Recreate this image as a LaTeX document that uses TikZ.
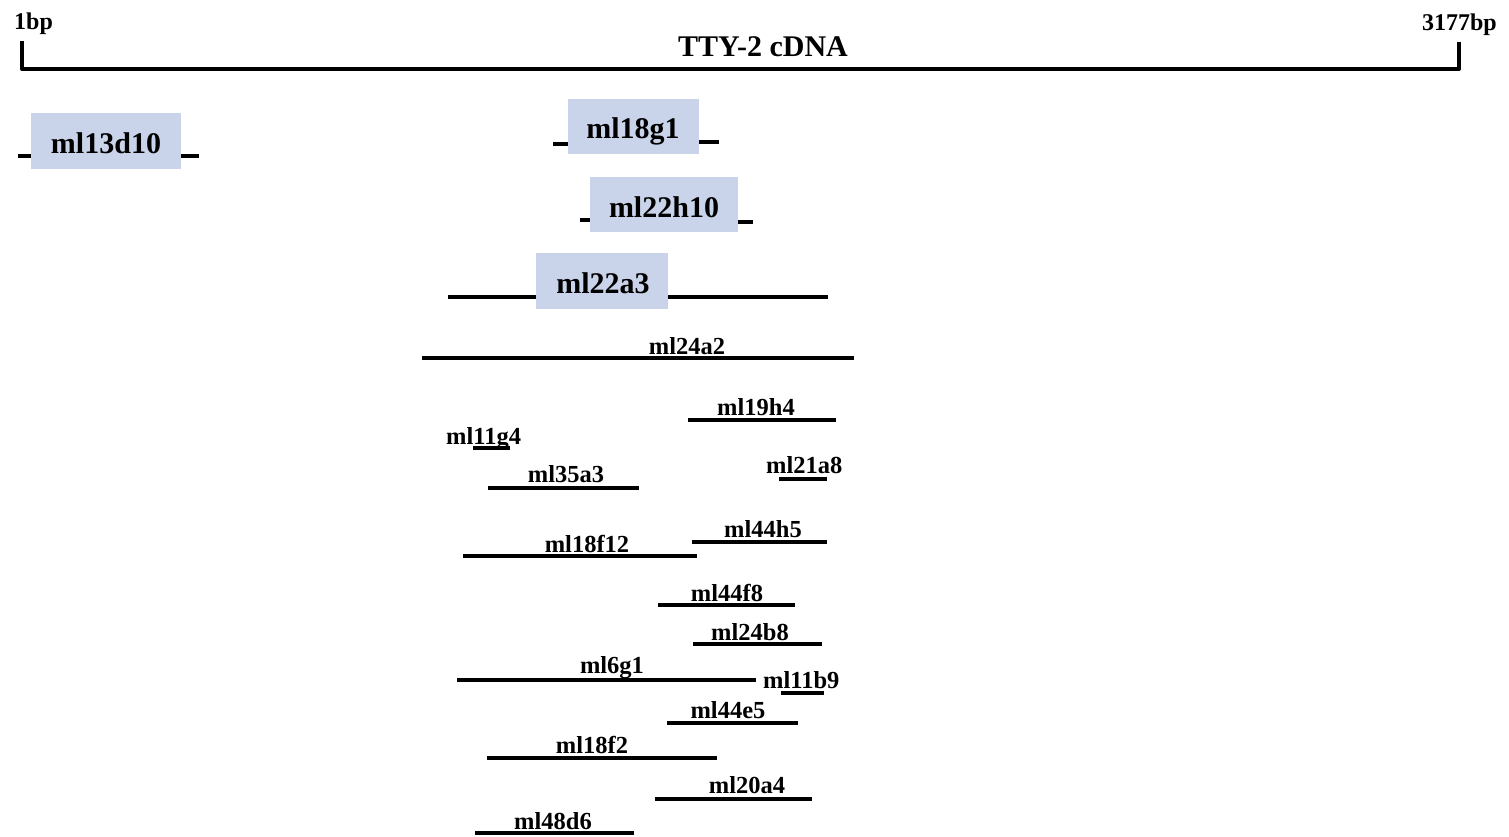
\documentclass[tikz,border=0pt]{standalone}
\usepackage{fontspec}
\setmainfont{Liberation Serif}
\definecolor{boxblue}{RGB}{201,211,233}
\begin{document}
\begin{tikzpicture}[x=1pt,y=-1pt,
  seg/.style={line width=4pt,black},
  bracket/.style={line width=4pt,black,line join=round},
  cbox/.style={fill=boxblue,draw=none,inner sep=0pt,anchor=north west},
  biglab/.style={font=\fontsize{30}{36}\selectfont\bfseries,anchor=base,inner sep=0pt},
  lab/.style={font=\fontsize{24.5}{28}\selectfont\bfseries,anchor=base,inner sep=0pt},
  endlab/.style={font=\fontsize{24}{28}\selectfont\bfseries,anchor=base,inner sep=0pt}]
\useasboundingbox (0,0) rectangle (1509,836);
% scale bar
\coordinate (b1) at (22,41);
\coordinate (b2) at (22,69);
\coordinate (b3) at (1459,69);
\coordinate (b4) at (1459,42);
\draw[bracket] (b1) -- (b2) -- (b3) -- (b4);
\node[endlab,anchor=base west] (start) at (14,29) {1bp};
\node[endlab,anchor=base east] (stop) at (1497,30) {3177bp};
\node[biglab] (title) at (763,56) {TTY-2 cDNA};
% boxed clones
\node[cbox,minimum width=150pt,minimum height=56pt] (B1) at (31,113) {};
\node[biglab] (t1) at (106,153) {ml13d10};
\coordinate (B1l) at (18,156); \coordinate (B1r) at (199,156);
\draw[seg] (B1l) -- (B1l -| B1.west);
\draw[seg] (B1.east |- B1r) -- (B1r);

\node[cbox,minimum width=131pt,minimum height=55pt] (B2) at (568,99) {};
\node[biglab] (t2) at (633,138) {ml18g1};
\coordinate (B2l) at (553,144); \coordinate (B2r) at (719,142);
\draw[seg] (B2l) -- (B2l -| B2.west);
\draw[seg] (B2.east |- B2r) -- (B2r);

\node[cbox,minimum width=148pt,minimum height=55pt] (B3) at (590,177) {};
\node[biglab] (t3) at (664,217) {ml22h10};
\coordinate (B3l) at (580,220); \coordinate (B3r) at (753,222);
\draw[seg] (B3l) -- (B3l -| B3.west);
\draw[seg] (B3.east |- B3r) -- (B3r);

\node[cbox,minimum width=132pt,minimum height=56pt] (B4) at (536,253) {};
\node[biglab] (t4) at (603,293) {ml22a3};
\coordinate (B4l) at (448,297); \coordinate (B4r) at (828,297);
\draw[seg] (B4l) -- (B4l -| B4.west);
\draw[seg] (B4.east |- B4r) -- (B4r);

% plain clones
\coordinate (a1) at (422,358); \coordinate (a2) at (854,358);
\draw[seg] (a1) -- (a2);
\node[lab] (ml24a2) at (687,354) {ml24a2};

\coordinate (c1) at (688,420); \coordinate (c2) at (836,420);
\draw[seg] (c1) -- (c2);
\node[lab] (ml19h4) at (756,415) {ml19h4};

\node[lab,anchor=base west] (ml11g4) at (446,444) {ml11g4};
\coordinate (d1) at (473,448); \coordinate (d2) at (510,448);
\draw[seg] (d1) -- (d2);

\coordinate (e1) at (488,488); \coordinate (e2) at (639,488);
\draw[seg] (e1) -- (e2);
\node[lab] (ml35a3) at (566,482) {ml35a3};

\node[lab,anchor=base west] (ml21a8) at (766,473) {ml21a8};
\coordinate (f1) at (779,479); \coordinate (f2) at (827,479);
\draw[seg] (f1) -- (f2);

\coordinate (g1) at (692,542); \coordinate (g2) at (827,542);
\draw[seg] (g1) -- (g2);
\node[lab] (ml44h5) at (763,537) {ml44h5};

\coordinate (h1) at (463,556); \coordinate (h2) at (697,556);
\draw[seg] (h1) -- (h2);
\node[lab] (ml18f12) at (587,552) {ml18f12};

\coordinate (i1) at (658,605); \coordinate (i2) at (795,605);
\draw[seg] (i1) -- (i2);
\node[lab] (ml44f8) at (727,601) {ml44f8};

\coordinate (j1) at (693,644); \coordinate (j2) at (822,644);
\draw[seg] (j1) -- (j2);
\node[lab] (ml24b8) at (750,640) {ml24b8};

\coordinate (k1) at (457,680); \coordinate (k2) at (756,680);
\draw[seg] (k1) -- (k2);
\node[lab] (ml6g1) at (612,673) {ml6g1};

\node[lab,anchor=base west] (ml11b9) at (763,688) {ml11b9};
\coordinate (l1) at (781,693); \coordinate (l2) at (824,693);
\draw[seg] (l1) -- (l2);

\coordinate (m1) at (667,723); \coordinate (m2) at (798,723);
\draw[seg] (m1) -- (m2);
\node[lab] (ml44e5) at (728,718) {ml44e5};

\coordinate (n1) at (487,758); \coordinate (n2) at (717,758);
\draw[seg] (n1) -- (n2);
\node[lab] (ml18f2) at (592,753) {ml18f2};

\coordinate (o1) at (655,799); \coordinate (o2) at (812,799);
\draw[seg] (o1) -- (o2);
\node[lab] (ml20a4) at (747,793) {ml20a4};

\coordinate (p1) at (475,833); \coordinate (p2) at (634,833);
\draw[seg] (p1) -- (p2);
\node[lab] (ml48d6) at (553,829) {ml48d6};
\end{tikzpicture}
\end{document}
